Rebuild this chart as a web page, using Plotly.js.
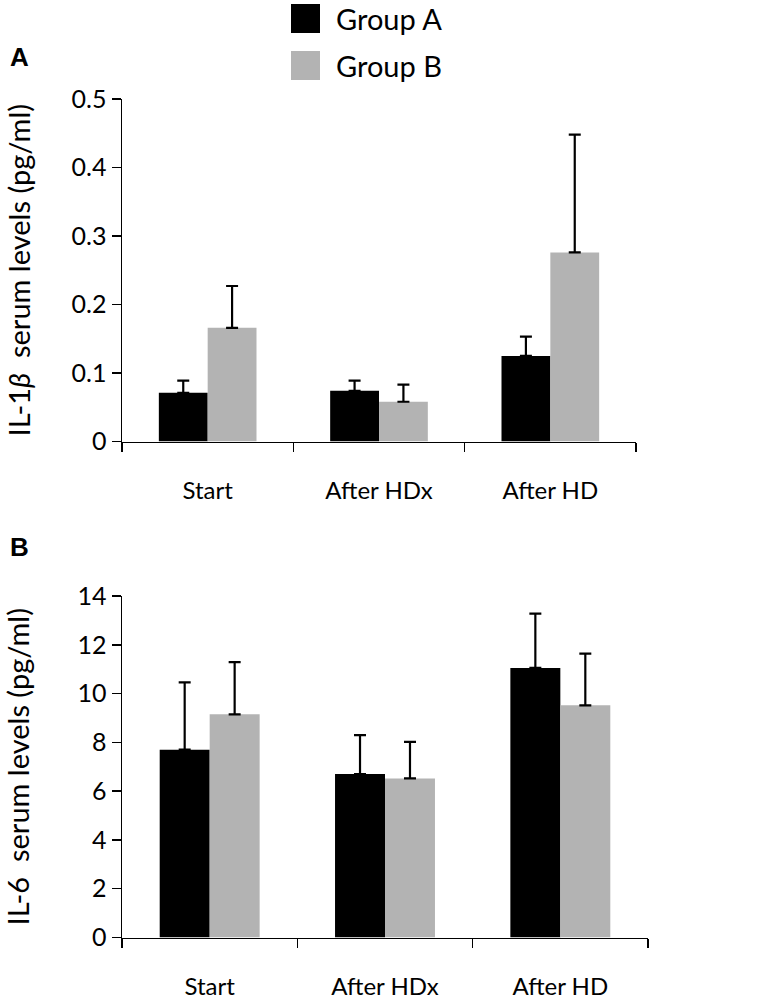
<!DOCTYPE html>
<html>
<head>
<meta charset="utf-8">
<script src="https://cdn.plot.ly/plotly-3.0.1.min.js"></script>
<style>html,body{margin:0;padding:0;background:#fff;}#chart{width:760px;height:1002px;}</style>
</head>
<body>
<div id="chart"></div>
<script>
// ---- data ----
const categories = ["Start", "After HDx", "After HD"];
const groupNames = ["Group A", "Group B"];
// Panel A: IL-1beta (pg/ml)
const il1bGroupA = [0.071, 0.074, 0.125];
const il1bGroupAErr = [0.018, 0.015, 0.028];
const il1bGroupB = [0.166, 0.058, 0.276];
const il1bGroupBErr = [0.061, 0.025, 0.172];
// Panel B: IL-6 (pg/ml)
const il6GroupA = [7.7, 6.7, 11.05];
const il6GroupAErr = [2.76, 1.6, 2.23];
const il6GroupB = [9.15, 6.52, 9.52];
const il6GroupBErr = [2.14, 1.5, 2.12];
const yTicksA = [0, 0.1, 0.2, 0.3, 0.4, 0.5];
const yTicksB = [0, 2, 4, 6, 8, 10, 12, 14];

// ---- styling ----
const FONT = "Lato, 'Open Sans', sans-serif";
const colA = "#000000";
const colB = "#b3b3b3";
const W = 760, H = 1002;
const px = v => v / W;
const py = v => 1 - v / H;

function errUp(arr) {
  return {type: "data", symmetric: false, array: arr, arrayminus: arr.map(() => 0),
          color: "#000", thickness: 2.2, width: 6};
}
function barTrace(y, err, name, color, xa, ya) {
  return {type: "bar", x: categories, y: y, name: name, xaxis: xa, yaxis: ya,
          marker: {color: color, line: {width: 0}}, error_y: errUp(err),
          showlegend: false, hoverinfo: "x+y+name"};
}

const traces = [
  barTrace(il1bGroupA, il1bGroupAErr, groupNames[0], colA, "x", "y"),
  barTrace(il1bGroupB, il1bGroupBErr, groupNames[1], colB, "x", "y"),
  barTrace(il6GroupA, il6GroupAErr, groupNames[0], colA, "x2", "y2"),
  barTrace(il6GroupB, il6GroupBErr, groupNames[1], colB, "x2", "y2")
];

const xCommon = {
  type: "category", showline: true, linecolor: "#000", linewidth: 1.5,
  ticks: "outside", tickson: "boundaries", ticklen: 9, tickwidth: 1.5, tickcolor: "#000",
  showgrid: false, zeroline: false, fixedrange: true,
  tickfont: {family: FONT, size: 24, color: "#000"}, ticklabelstandoff: 27,
  automargin: false
};
const yCommon = {
  showline: true, linecolor: "#000", linewidth: 1.5,
  ticks: "outside", ticklen: 9, tickwidth: 1.5, tickcolor: "#000",
  showgrid: false, zeroline: false, fixedrange: true,
  tickfont: {family: FONT, size: 25, color: "#000"},
  automargin: false
};

const layout = {
  width: W, height: H,
  margin: {l: 0, r: 0, t: 0, b: 0},
  paper_bgcolor: "#fff", plot_bgcolor: "#fff",
  barmode: "group", bargap: 0.43, bargroupgap: 0,
  showlegend: false,
  font: {family: FONT, color: "#000"},
  xaxis: Object.assign({}, xCommon, {domain: [px(122), px(636)], anchor: "y"}),
  yaxis: Object.assign({}, yCommon, {domain: [py(441.5), py(99)], anchor: "x",
    range: [0, 0.5], tickvals: yTicksA, ticktext: yTicksA.map(v => v === 0 ? "0" : v.toFixed(1)),
    title: {text: "IL-1<i>β</i>  serum levels (pg/ml)", font: {family: FONT, size: 29, color: "#000"}, standoff: 32}}),
  xaxis2: Object.assign({}, xCommon, {domain: [px(122), px(648)], anchor: "y2"}),
  yaxis2: Object.assign({}, yCommon, {domain: [py(937.5), py(596)], anchor: "x2",
    range: [0, 14], tickvals: yTicksB,
    title: {text: "IL-6  serum levels (pg/ml)", font: {family: FONT, size: 29, color: "#000"}, standoff: 40}}),
  shapes: [
    {type: "rect", xref: "paper", yref: "paper", x0: px(291), x1: px(320), y0: py(33), y1: py(4),
     fillcolor: colA, line: {width: 0}},
    {type: "rect", xref: "paper", yref: "paper", x0: px(291), x1: px(320), y0: py(80), y1: py(51),
     fillcolor: colB, line: {width: 0}}
  ],
  annotations: [
    {xref: "paper", yref: "paper", x: px(334), y: py(19), xanchor: "left", yanchor: "middle",
     text: groupNames[0], showarrow: false, font: {family: FONT, size: 29, color: "#000"}},
    {xref: "paper", yref: "paper", x: px(334), y: py(65), xanchor: "left", yanchor: "middle",
     text: groupNames[1], showarrow: false, font: {family: FONT, size: 29, color: "#000"}},
    {xref: "paper", yref: "paper", x: px(19), y: py(57), xanchor: "center", yanchor: "middle",
     text: "<b>A</b>", showarrow: false, font: {family: "Liberation Sans, Arial, sans-serif", size: 26, color: "#000"}},
    {xref: "paper", yref: "paper", x: px(19), y: py(547), xanchor: "center", yanchor: "middle",
     text: "<b>B</b>", showarrow: false, font: {family: "Liberation Sans, Arial, sans-serif", size: 26, color: "#000"}}
  ]
};

Plotly.newPlot("chart", traces, layout, {staticPlot: true, displayModeBar: false});
</script>
</body>
</html>
